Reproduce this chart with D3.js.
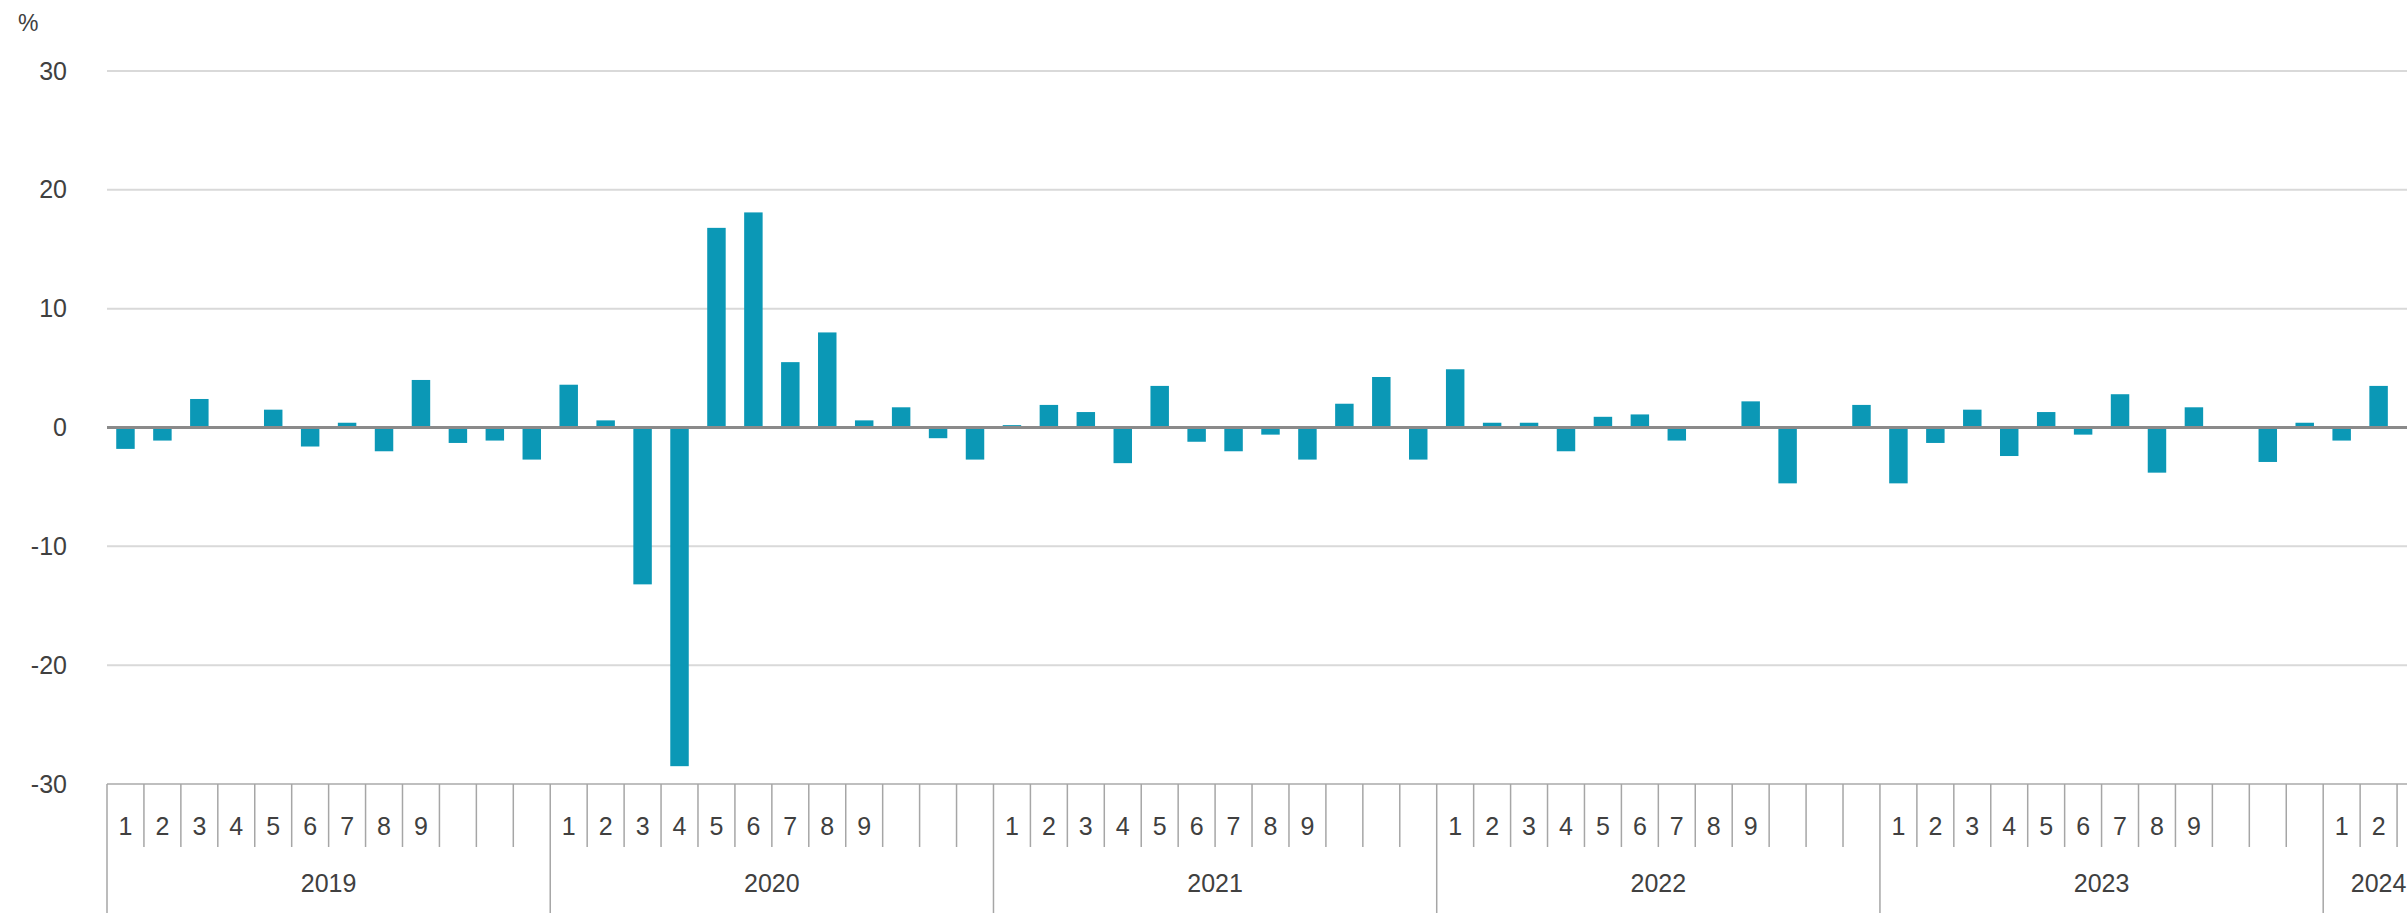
<!DOCTYPE html>
<html>
<head>
<meta charset="utf-8">
<script src="https://cdn.jsdelivr.net/npm/d3@7/dist/d3.min.js"></script>
<style>
  html, body { margin: 0; padding: 0; background: #ffffff; overflow: hidden; }
  svg { display: block; }
  text { font-family: "Liberation Sans", Arial, sans-serif; fill: #404040; }
</style>
</head>
<body>
<svg id="chart" width="2407" height="913"></svg>
<script>
// ---- data ----
const years = [2019, 2020, 2021, 2022, 2023, 2024];
const monthsShown = [12, 12, 12, 12, 12, 3];
const monthLabels = ["1", "2", "3", "4", "5", "6", "7", "8", "9", "", "", ""];
const yTicks = [-30, -20, -10, 0, 10, 20, 30];
const v2019 = [-1.8, -1.1, 2.4, 0.0, 1.5, -1.6, 0.4, -2.0, 4.0, -1.3, -1.1, -2.7];
const v2020 = [3.6, 0.6, -13.2, -28.5, 16.8, 18.1, 5.5, 8.0, 0.6, 1.7, -0.9, -2.7];
const v2021 = [0.2, 1.9, 1.3, -3.0, 3.5, -1.2, -2.0, -0.6, -2.7, 2.0, 4.25, -2.7];
const v2022 = [4.9, 0.4, 0.4, -2.0, 0.9, 1.1, -1.1, 0.1, 2.2, -4.7, 0.1, 1.9];
const v2023 = [-4.7, -1.3, 1.5, -2.4, 1.3, -0.6, 2.8, -3.8, 1.7, 0.0, -2.9, 0.4];
const v2024 = [-1.1, 3.5, null];
const seriesByYear = [v2019, v2020, v2021, v2022, v2023, v2024];

// build table
const data = [];
years.forEach((yr, i) => {
  for (let m = 0; m < monthsShown[i]; m++) {
    data.push({ id: yr + "-" + (m + 1), year: yr, month: m + 1, label: monthLabels[m], value: seriesByYear[i][m] });
  }
});

// ---- layout ----
const left = 107, right = 2434;
const yTop = 71, yBottom = 784;
const monthTickBottom = 847, axisBottom = 913;

const svg = d3.select("#chart");
const x = d3.scaleBand().domain(data.map(d => d.id)).range([left, right]).padding(0);
const y = d3.scaleLinear().domain([-30, 30]).range([yBottom, yTop]);
const bw = x.bandwidth();

// gridlines
svg.append("g").selectAll("line")
  .data(yTicks.filter(t => t !== 0 && t !== -30))
  .join("line")
  .attr("x1", left).attr("x2", right)
  .attr("y1", d => y(d)).attr("y2", d => y(d))
  .attr("stroke", "#d9d9d9").attr("stroke-width", 2);

// y axis labels
const yAxis = d3.axisLeft(y).tickValues(yTicks).tickSize(0).tickPadding(0)
  .tickFormat(d => d < 0 ? "-" + Math.abs(d) : String(d));
const gy = svg.append("g").attr("transform", "translate(67,0)").call(yAxis);
gy.select(".domain").remove();
gy.selectAll("text").attr("font-size", 25).attr("fill", "#404040")
  .style("font-family", "'Liberation Sans', Arial, sans-serif");

// % label
svg.append("text").attr("x", 18).attr("y", 31).attr("font-size", 23).text("%");

// bars
svg.append("g").selectAll("rect")
  .data(data.filter(d => d.value !== null && d.value !== 0))
  .join("rect")
  .attr("x", d => x(d.id) + bw * 0.25)
  .attr("width", bw * 0.5)
  .attr("y", d => Math.min(y(d.value), y(0)))
  .attr("height", d => Math.abs(y(d.value) - y(0)))
  .attr("fill", "#0b98b6");

// zero line
svg.append("line")
  .attr("x1", left).attr("x2", right)
  .attr("y1", y(0)).attr("y2", y(0))
  .attr("stroke", "#8a8a8a").attr("stroke-width", 3);

// category axis
const cat = svg.append("g");
cat.append("line")
  .attr("x1", left).attr("x2", right)
  .attr("y1", yBottom).attr("y2", yBottom)
  .attr("stroke", "#bfbfbf").attr("stroke-width", 2);

// month separators
cat.selectAll("line.m")
  .data(data)
  .join("line").attr("class", "m")
  .attr("x1", d => x(d.id)).attr("x2", d => x(d.id))
  .attr("y1", yBottom)
  .attr("y2", d => d.month === 1 ? axisBottom : monthTickBottom)
  .attr("stroke", "#a6a6a6").attr("stroke-width", 1.5);

// month labels
cat.selectAll("text.m")
  .data(data.filter(d => d.label !== ""))
  .join("text").attr("class", "m")
  .attr("x", d => x(d.id) + bw / 2)
  .attr("y", 835)
  .attr("text-anchor", "middle")
  .attr("font-size", 25)
  .text(d => d.label);

// year labels
cat.selectAll("text.y")
  .data(years)
  .join("text").attr("class", "y")
  .attr("x", (yr, i) => {
    const first = x(yr + "-1");
    const last = x(yr + "-" + monthsShown[i]) + bw;
    return (first + last) / 2;
  })
  .attr("y", 892)
  .attr("text-anchor", "middle")
  .attr("font-size", 25)
  .text(d => d);
</script>
</body>
</html>
